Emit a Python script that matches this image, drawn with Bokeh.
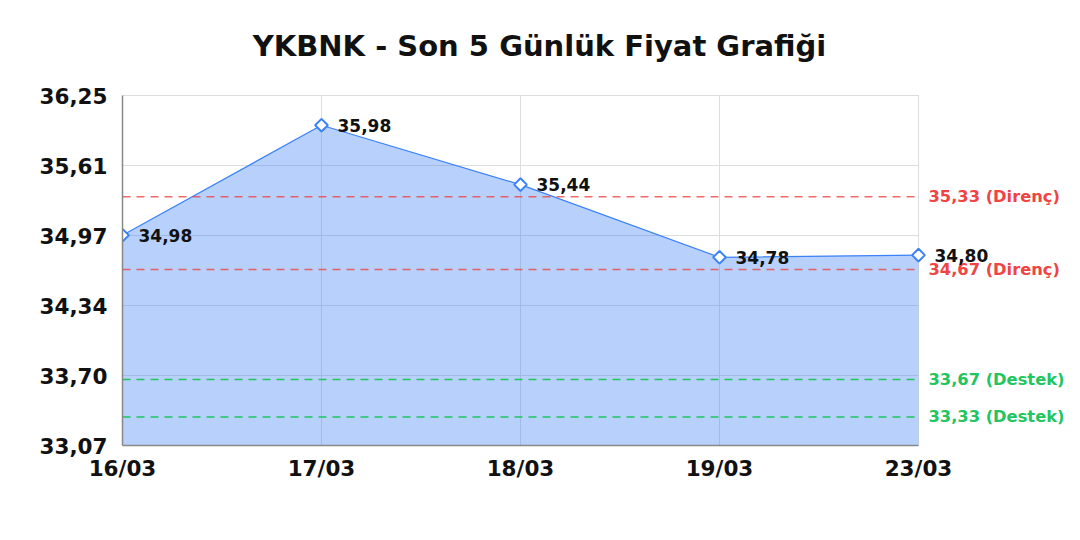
import math

from bokeh.core.properties import value
from bokeh.embed import file_html
from bokeh.models import ColumnDataSource, FixedTicker, Label, LabelSet
from bokeh.plotting import figure
from bokeh.resources import INLINE

# data
dates = ["16/03", "17/03", "18/03", "19/03", "23/03"]
prices = [34.98, 35.98, 35.44, 34.78, 34.80]
price_labels = ["34,98", "35,98", "35,44", "34,78", "34,80"]

y_ticks = [33.07, 33.706, 34.342, 34.978, 35.614, 36.25]
y_tick_labels = ["33,07", "33,70", "34,34", "34,97", "35,61", "36,25"]

resistance = [35.33, 34.67]
resistance_labels = ["35,33 (Direnç)", "34,67 (Direnç)"]
support = [33.67, 33.33]
support_labels = ["33,67 (Destek)", "33,33 (Destek)"]

title_text = "YKBNK - Son 5 Günlük Fiyat Grafiği"

FONT = "DejaVu Sans"
BLUE = "#3b82f6"
RED = "#ef4444"
GREEN = "#22c55e"
GRID = "#dddddd"

x = list(range(len(dates)))
y_min, y_max = y_ticks[0], y_ticks[-1]

# the frame is stretched to the top and right edges of the canvas so that the
# title and the right-hand labels are not clipped; axes get bounds and the
# grid is drawn by hand inside the data area
W, H = 1064, 524
LEFT, BOTTOM = 122, 79
STEP_PX = 199          # pixels between two dates
PX_PER_UNIT = 350 / (y_max - y_min)
x_end = (W - LEFT) / STEP_PX
y_end = y_min + (H - BOTTOM) / PX_PER_UNIT

p = figure(width=W, height=H, output_backend="svg", toolbar_location=None,
           x_range=(0, x_end), y_range=(y_min, y_end),
           min_border_left=LEFT, min_border_right=0,
           min_border_top=0, min_border_bottom=BOTTOM)
p.outline_line_color = None
p.grid.visible = False

# grid
p.segment(x0=x, x1=x, y0=[y_min] * len(x), y1=[y_max] * len(x),
          line_color=GRID, line_width=1)
p.segment(x0=[x[0]] * len(y_ticks), x1=[x[-1]] * len(y_ticks),
          y0=y_ticks, y1=y_ticks, line_color=GRID, line_width=1)

# area + line
source = ColumnDataSource(data=dict(x=x, y=prices, label=price_labels,
                                    base=[y_min] * len(x)))
p.varea(x="x", y1="base", y2="y", source=source, fill_color=BLUE, fill_alpha=0.37)
p.line(x="x", y="y", source=source, line_color=BLUE, line_width=1.2)

# support / resistance lines
for values, labels, color, alpha in [(resistance, resistance_labels, RED, 0.8),
                                     (support, support_labels, GREEN, 1.0)]:
    p.segment(x0=[x[0]] * len(values), x1=[x[-1]] * len(values),
              y0=values, y1=values, line_color=color, line_alpha=alpha,
              line_width=1.5, line_dash="8 6")
    ref_src = ColumnDataSource(data=dict(x=[x[-1]] * len(values), y=values,
                                         label=labels))
    p.add_layout(LabelSet(x="x", y="y", text="label", source=ref_src,
                          x_offset=10, text_align="left", text_baseline="middle",
                          text_font=value(FONT), text_font_style="bold",
                          text_font_size="16.3px", text_color=color))

# markers and value labels
p.scatter(x="x", y="y", source=source, marker="square", size=9,
          angle=math.pi / 4, fill_color="white", line_color=BLUE, line_width=2)

p.add_layout(LabelSet(x="x", y="y", text="label", source=source,
                      x_offset=16, y_offset=0, text_align="left",
                      text_baseline="middle", text_font=value(FONT),
                      text_font_style="bold", text_font_size="17px",
                      text_color="#111111"))

p.add_layout(Label(x=(x[0] + x[-1]) / 2, y=y_max, x_offset=19, y_offset=50,
                   text=title_text, text_align="center", text_baseline="middle",
                   text_font=FONT, text_font_style="bold",
                   text_font_size="29px", text_color="#111111"))

# axes
p.xaxis.ticker = FixedTicker(ticks=x)
p.xaxis.major_label_overrides = {i: d for i, d in enumerate(dates)}
p.xaxis.bounds = (x[0], x[-1])
p.yaxis.ticker = FixedTicker(ticks=y_ticks)
p.yaxis.major_label_overrides = {t: l for t, l in zip(y_ticks, y_tick_labels)}
p.yaxis.bounds = (y_min, y_max)

for ax in (p.xaxis, p.yaxis):
    ax.axis_line_color = "#888888"
    ax.axis_line_width = 1.5
    ax.major_tick_line_color = None
    ax.minor_tick_line_color = None
    ax.major_label_text_font = FONT
    ax.major_label_text_font_style = "bold"
    ax.major_label_text_font_size = "21.5px"
    ax.major_label_text_color = "#111111"
p.yaxis.major_label_standoff = 9
p.xaxis.major_label_standoff = 4

open("out.html", "w").write(file_html(p, INLINE))
